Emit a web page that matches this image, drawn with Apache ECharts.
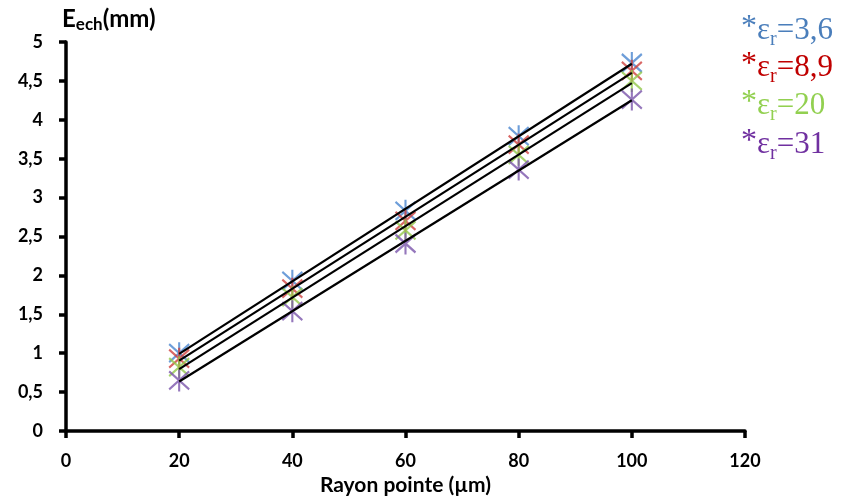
<!DOCTYPE html>
<html>
<head>
<meta charset="utf-8">
<script src="https://cdn.jsdelivr.net/npm/echarts@6/dist/echarts.min.js"></script>
<style>
  html, body { margin: 0; padding: 0; background: #fff; }
  #chart { width: 848px; height: 501px; }
</style>
</head>
<body>
<div id="chart"></div>
<script>
// Tip radius (µm) and measured E_ech (mm) for each permittivity
const rayon = [20, 40, 60, 80, 100];
const eps36 = [1.00, 1.93, 2.83, 3.79, 4.73];
const eps89 = [0.93, 1.83, 2.70, 3.68, 4.63];
const eps20 = [0.82, 1.72, 2.58, 3.55, 4.50];
const eps31 = [0.65, 1.54, 2.41, 3.36, 4.26];

const seriesNames = ['3,6', '8,9', '20', '31'];
const seriesData = [eps36, eps89, eps20, eps31];
const seriesColors = ['#4a86d0', '#d0413f', '#92c84a', '#7a55ab'];
const labelColors = ['#4a7ebb', '#c00000', '#92d050', '#7030a0'];

const font = 'Lato, "Open Sans", sans-serif';
const serif = '"Liberation Serif", "DejaVu Serif", serif';

// Asterisk marker: two diagonals plus a vertical stroke
const asterisk = 'path://M0,2 L20,20 M20,2 L0,20 M10,0 L10,22';

// Least-squares straight line through one series, drawn between first and last x
function fitLine(xs, ys) {
  const n = xs.length;
  let sx = 0, sy = 0, sxx = 0, sxy = 0;
  for (let i = 0; i < n; i++) {
    sx += xs[i]; sy += ys[i]; sxx += xs[i] * xs[i]; sxy += xs[i] * ys[i];
  }
  const a = (n * sxy - sx * sy) / (n * sxx - sx * sx);
  const b = (sy - a * sx) / n;
  const x0 = xs[0], x1 = xs[n - 1];
  return [[x0, a * x0 + b], [x1, a * x1 + b]];
}

const series = [];
seriesData.forEach((ys, i) => {
  series.push({
    type: 'line',
    data: fitLine(rayon, ys),
    symbol: 'none',
    lineStyle: { color: '#000', width: 2.2 },
    z: 3,
    silent: true
  });
});
seriesData.forEach((ys, i) => {
  series.push({
    name: seriesNames[i],
    type: 'scatter',
    data: rayon.map((x, k) => [x, ys[k]]),
    symbol: asterisk,
    symbolSize: [20, 22],
    itemStyle: { color: 'none', borderColor: seriesColors[i], borderWidth: 2.2 },
    z: 2
  });
});

// Legend entries drawn as text on the right side
const legendTop = [12, 49, 87, 126];
const legendGraphics = seriesNames.map((nm, i) => ({
  type: 'text',
  left: 741,
  top: legendTop[i],
  style: {
    text: '{a|*}{e|ε}{s|r}{e|=' + nm + '}',
    fill: labelColors[i],
    rich: {
      a: { fontFamily: serif, fontSize: 32, fill: labelColors[i], verticalAlign: 'top', padding: [0, 0, 6, 0] },
      e: { fontFamily: serif, fontSize: 31, fill: labelColors[i] },
      s: { fontFamily: serif, fontSize: 20, fill: labelColors[i], verticalAlign: 'bottom', padding: [16, 0, 0, 0] }
    }
  }
}));

const chart = echarts.init(document.getElementById('chart'));
chart.setOption({
  animation: false,
  backgroundColor: '#fff',
  grid: { left: 66, right: 103, top: 42, bottom: 69 },
  xAxis: {
    type: 'value',
    min: 0, max: 120, interval: 20,
    name: 'Rayon pointe (µm)',
    nameLocation: 'middle',
    nameGap: 44,
    nameTextStyle: { fontFamily: font, fontWeight: 'bold', fontSize: 21, color: '#000' },
    axisLine: { lineStyle: { color: '#000', width: 3.5 } },
    axisTick: { show: true, inside: false, length: 7, lineStyle: { color: '#000', width: 3.5 } },
    axisLabel: { margin: 21, fontFamily: font, fontWeight: 'bold', fontSize: 18, color: '#000' },
    splitLine: { show: false }
  },
  yAxis: {
    type: 'value',
    min: 0, max: 5, interval: 0.5,
    axisLine: { show: true, lineStyle: { color: '#000', width: 3.5 } },
    axisTick: { show: true, inside: false, length: 7, lineStyle: { color: '#000', width: 3.5 } },
    axisLabel: {
      margin: 23, fontFamily: font, fontWeight: 'bold', fontSize: 18, color: '#000',
      formatter: v => String(v).replace('.', ',')
    },
    splitLine: { show: false }
  },
  graphic: [
    {
      type: 'text',
      left: 62,
      top: 7,
      style: {
        text: '{m|E}{s|ech}{m|(mm)}',
        rich: {
          m: { fontFamily: font, fontWeight: 'bold', fontSize: 24, fill: '#000' },
          s: { fontFamily: font, fontWeight: 'bold', fontSize: 17, fill: '#000', verticalAlign: 'bottom', padding: [12, 0, 0, 0] }
        }
      }
    }
  ].concat(legendGraphics),
  series: series
});
</script>
</body>
</html>
